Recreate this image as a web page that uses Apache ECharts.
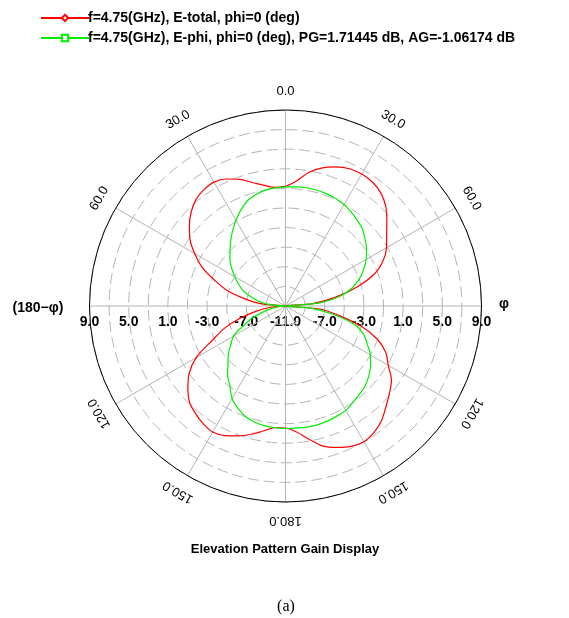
<!DOCTYPE html>
<html>
<head>
<meta charset="utf-8">
<script src="https://cdn.jsdelivr.net/npm/echarts@6/dist/echarts.min.js"></script>
<style>
  html, body { margin: 0; padding: 0; background: #fff; }
  #chart { width: 569px; height: 618px; }
</style>
</head>
<body>
<div id="chart"></div>
<script>
// angles in degrees, clockwise from top (0 = zenith)
const angles = [0,5,10,15,20,25,30,35,40,45,50,55,60,65,70,75,80,85,90,95,100,105,110,115,120,125,130,135,140,145,150,155,160,165,170,175,
  180,185,190,195,200,205,210,215,220,225,230,235,240,245,250,255,260,265,270,275,280,285,290,295,300,305,310,315,320,325,330,335,340,345,350,355];

// gain in dB
const eTotal = [1.2,1.8,2.85,3.6,4.1,4.45,4.55,4.45,4.1,3.45,2.5,1.6,0.9,0.0,-1.3,-3.4,-5.8,-8.2,-11,-7.5,-5.5,-3.0,-1.0,0.3,1.1,2.2,2.85,3.5,4.25,4.75,5.0,4.8,4.35,3.8,2.8,1.9,
  1.45,1.45,1.95,2.55,3.1,3.6,3.85,3.65,3.3,2.85,2.0,1.0,-0.5,-2.8,-4.4,-6.2,-8.0,-9.5,-11,-8.6,-6.8,-4.8,-3.3,-1.6,-0.3,0.9,1.8,2.6,3.2,3.5,3.6,3.3,2.75,2.05,1.5,1.15];

const ePhi = [1.15,1.2,1.25,1.25,1.2,1.1,0.95,0.7,0.4,0.1,-0.4,-0.9,-1.5,-2.2,-3.0,-4.0,-5.4,-7.6,-11,-8.3,-6.0,-3.7,-2.5,-1.8,-1.0,-0.4,0.1,0.5,0.75,1.0,1.3,1.4,1.5,1.55,1.55,1.5,
  1.5,1.45,1.4,1.25,1.0,0.5,-0.1,-1.1,-1.8,-2.7,-3.4,-4.2,-4.9,-6.3,-7.4,-8.6,-9.6,-10.4,-11,-9.4,-8.2,-7.3,-6.4,-5.7,-5.0,-4.3,-3.6,-3.0,-2.3,-1.6,-0.9,-0.2,0.4,0.75,1.0,1.1];

const dbMin = -11;
const dbMax = 9;
const ringLabels = ['-11.0','-7.0','-3.0','1.0','5.0','9.0'];
const angleTicks = [0,30,60,120,150,180,210,240,300,330];
const angleTickLabels = ['0.0','30.0','60.0','120.0','150.0','180.0','150.0','120.0','60.0','30.0'];

const legendNames = [
  'f=4.75(GHz), E-total, phi=0 (deg)',
  'f=4.75(GHz), E-phi, phi=0 (deg), PG=1.71445 dB, AG=-1.06174 dB'
];

const CX = 285.5, CY = 306, R = 196;

function toPolar(vals) {
  const pts = vals.map((v, i) => [Math.max(0, v - dbMin), angles[i]]);
  pts.push([Math.max(0, vals[0] - dbMin), 360]);
  return pts;
}

const chart = echarts.init(document.getElementById('chart'));

const graphics = [];
// angle labels, rotated along the circle
angleTicks.forEach((a, i) => {
  const rad = a * Math.PI / 180;
  const rl = R + 19;
  graphics.push({
    type: 'text',
    x: CX + rl * Math.sin(rad),
    y: CY - rl * Math.cos(rad),
    rotation: -rad,
    style: { text: angleTickLabels[i], font: '13px Arial, "Liberation Sans"', fill: '#000', textAlign: 'center', textVerticalAlign: 'middle' }
  });
});
// ring labels along the horizontal line
ringLabels.forEach((t, i) => {
  const d = R * i * 4 / (dbMax - dbMin);
  const xs = i === 0 ? [CX] : [CX - d, CX + d];
  xs.forEach(x => {
    graphics.push({
      type: 'text', x: x, y: CY + 16,
      style: { text: t, font: 'bold 14px Arial, "Liberation Sans"', fill: '#000', textAlign: 'center', textVerticalAlign: 'middle' }
    });
  });
});
graphics.push({ type: 'text', x: 38, y: CY + 2, style: { text: '(180\u2212\u03c6)', font: 'bold 14px Arial, "Liberation Sans"', fill: '#000', textAlign: 'center', textVerticalAlign: 'middle' } });
graphics.push({ type: 'text', x: 504, y: CY - 2, style: { text: '\u03c6', font: 'bold 14px Arial, "Liberation Sans"', fill: '#000', textAlign: 'center', textVerticalAlign: 'middle' } });
graphics.push({ type: 'text', x: 285, y: 549, style: { text: 'Elevation Pattern Gain Display', font: 'bold 13px Arial, "Liberation Sans"', fill: '#000', textAlign: 'center', textVerticalAlign: 'middle' } });
graphics.push({ type: 'text', x: 286, y: 607, style: { text: '(a)', font: '16px "Liberation Serif", "Times New Roman", serif', fill: '#000', textAlign: 'center', textVerticalAlign: 'middle' } });

const options = {
  animation: false,
  backgroundColor: '#fff',
  legend: {
    orient: 'vertical',
    left: 35,
    top: 6,
    itemWidth: 48,
    itemHeight: 8,
    itemGap: 6,
    textStyle: { fontFamily: 'Arial, "Liberation Sans"', fontWeight: 'bold', fontSize: 14, color: '#000', padding: [0, 0, 0, -6] },
    data: legendNames
  },
  polar: { center: [CX, CY], radius: R },
  angleAxis: {
    type: 'value',
    min: 0,
    max: 360,
    interval: 30,
    startAngle: 90,
    clockwise: true,
    axisLine: { lineStyle: { color: '#000', width: 1 } },
    axisTick: { show: false },
    axisLabel: { show: false },
    splitLine: { show: true, lineStyle: { color: '#b4b4b4', width: 1 } }
  },
  radiusAxis: {
    type: 'value',
    min: 0,
    max: dbMax - dbMin,
    interval: 2,
    axisLine: { show: false },
    axisTick: { show: false },
    axisLabel: { show: false },
    splitLine: { show: true, lineStyle: { color: '#b4b4b4', width: 1, type: [11, 5] } }
  },
  graphic: graphics,
  series: [
    {
      name: legendNames[0],
      type: 'line',
      coordinateSystem: 'polar',
      data: toPolar(eTotal),
      smooth: 0.35,
      symbol: 'emptyDiamond',
      symbolSize: 7,
      showSymbol: false,
      lineStyle: { color: '#ff0000', width: 1.2 },
      itemStyle: { color: '#ff0000' }
    },
    {
      name: legendNames[1],
      type: 'line',
      coordinateSystem: 'polar',
      data: toPolar(ePhi),
      smooth: 0.35,
      symbol: 'emptyRect',
      symbolSize: 6,
      showSymbol: false,
      lineStyle: { color: '#00ee00', width: 1.2 },
      itemStyle: { color: '#00ee00' }
    }
  ]
};
chart.setOption(options);
</script>
</body>
</html>
